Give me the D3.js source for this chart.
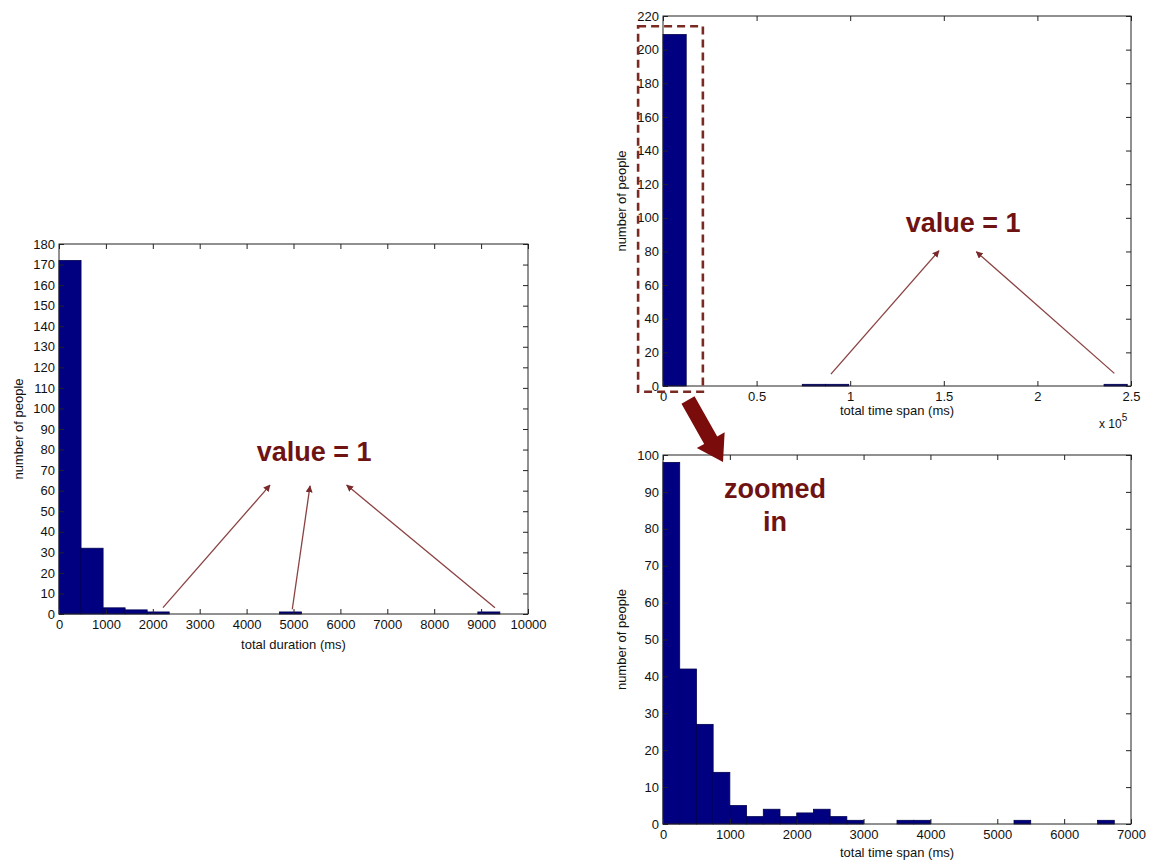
<!DOCTYPE html>
<html>
<head>
<meta charset="utf-8">
<script src="https://cdn.jsdelivr.net/npm/d3@7"></script>
<style>
  html, body { margin: 0; padding: 0; background: #fff; }
  svg { display: block; }
  text { font-family: "Liberation Sans", Arial, Helvetica, sans-serif; }
</style>
</head>
<body>
<svg id="chart" width="1153" height="863"></svg>
<script>
// ---------------- DATA ----------------
// Left histogram: total duration (ms), 20 bins
const durationBinStart = 0;
const durationBinWidth = 470;
const durationCounts = [172, 32, 3, 2, 1, 0, 0, 0, 0, 0, 1, 0, 0, 0, 0, 0, 0, 0, 0, 1];
const durationXTicks = [0, 1000, 2000, 3000, 4000, 5000, 6000, 7000, 8000, 9000, 10000];
const durationYTicks = d3.range(0, 181, 10);

// Top-right histogram: total time span (ms), full range, 20 bins
const spanFullBinStart = 0;
const spanFullBinWidth = 12400;
const spanFullCounts = [209, 0, 0, 0, 0, 0, 1, 1, 0, 0, 0, 0, 0, 0, 0, 0, 0, 0, 0, 1];
const spanFullXTicks = [0, 50000, 100000, 150000, 200000, 250000];
const spanFullXTickLabels = ["0", "0.5", "1", "1.5", "2", "2.5"];
const spanFullYTicks = d3.range(0, 221, 20);

// Bottom-right histogram: total time span (ms), zoomed in, bins of 250 ms
const spanZoomBinStart = 0;
const spanZoomBinWidth = 250;
const spanZoomCounts = [98, 42, 27, 14, 5, 2, 4, 2, 3, 4, 2, 1, 0, 0, 1, 1, 0, 0, 0, 0, 0, 1, 0, 0, 0, 0, 1];
const spanZoomXTicks = [0, 1000, 2000, 3000, 4000, 5000, 6000, 7000];
const spanZoomYTicks = d3.range(0, 101, 10);

// Annotation text
const annotationLabel = "value = 1";
const zoomLabelLines = ["zoomed", "in"];

// ---------------- DRAWING ----------------
const svg = d3.select("#chart");
const BAR_FILL = "#000080";
const BAR_EDGE = "#000050";
const ANNO_TEXT = "#6f1212";
const ANNO_LINE = "#8a4141";
const ANNO_FILL = "#7a0c0c";

const defs = svg.append("defs");
defs.append("marker")
  .attr("id", "head")
  .attr("viewBox", "0 0 10 10")
  .attr("refX", 9).attr("refY", 5)
  .attr("markerWidth", 7).attr("markerHeight", 7)
  .attr("markerUnits", "userSpaceOnUse")
  .attr("orient", "auto")
  .append("path")
  .attr("d", "M0,0 L10,5 L0,10 Z")
  .attr("fill", "#7a2a2a");

function panel(cfg) {
  const g = svg.append("g");
  const x = d3.scaleLinear().domain(cfg.xDomain).range([cfg.left, cfg.right]);
  const y = d3.scaleLinear().domain(cfg.yDomain).range([cfg.bottom, cfg.top]);

  const bins = cfg.counts.map((c, i) => ({
    x0: cfg.binStart + i * cfg.binWidth,
    x1: cfg.binStart + (i + 1) * cfg.binWidth,
    count: c
  })).filter(d => d.count > 0);

  g.selectAll("rect.bar").data(bins).enter().append("rect")
    .attr("class", "bar")
    .attr("x", d => x(d.x0))
    .attr("width", d => x(d.x1) - x(d.x0))
    .attr("y", d => y(d.count))
    .attr("height", d => y(0) - y(d.count))
    .attr("fill", BAR_FILL)
    .attr("stroke", BAR_EDGE)
    .attr("stroke-width", 0.8);

  const tk = 5;
  const fmt = cfg.xTickFormat || (d => d);
  const ax = g.append("g").attr("transform", `translate(0,${cfg.bottom})`)
    .call(d3.axisBottom(x).tickValues(cfg.xTicks).tickSize(-tk).tickPadding(6).tickFormat(fmt));
  const axT = g.append("g").attr("transform", `translate(0,${cfg.top})`)
    .call(d3.axisTop(x).tickValues(cfg.xTicks).tickSize(-tk).tickFormat(""));
  const ay = g.append("g").attr("transform", `translate(${cfg.left},0)`)
    .call(d3.axisLeft(y).tickValues(cfg.yTicks).tickSize(-tk).tickPadding(4));
  const ayR = g.append("g").attr("transform", `translate(${cfg.right},0)`)
    .call(d3.axisRight(y).tickValues(cfg.yTicks).tickSize(-tk).tickFormat(""));
  [ax, axT, ay, ayR].forEach(a => {
    a.select(".domain").remove();
    a.selectAll(".tick line").attr("stroke", "#222").attr("stroke-width", 1);
    a.selectAll("text").attr("font-size", 13).attr("fill", "#111")
      .style("font-family", "'Liberation Sans', Arial, sans-serif");
  });
  g.append("rect")
    .attr("x", cfg.left).attr("y", cfg.top)
    .attr("width", cfg.right - cfg.left).attr("height", cfg.bottom - cfg.top)
    .attr("fill", "none").attr("stroke", "#222").attr("stroke-width", 1);

  g.append("text")
    .attr("transform", `translate(${cfg.yLabelX},${(cfg.top + cfg.bottom) / 2}) rotate(-90)`)
    .attr("text-anchor", "middle").attr("dy", "0.35em")
    .attr("font-size", 13).attr("fill", "#111")
    .text("number of people");
  g.append("text")
    .attr("x", (cfg.left + cfg.right) / 2).attr("y", cfg.xLabelY)
    .attr("text-anchor", "middle")
    .attr("font-size", 13).attr("fill", "#111")
    .text(cfg.xLabel);
  return { g, x, y };
}

const L = panel({
  left: 59, right: 528, top: 244, bottom: 614,
  xDomain: [0, 10000], yDomain: [0, 180],
  binStart: durationBinStart, binWidth: durationBinWidth, counts: durationCounts,
  xTicks: durationXTicks, yTicks: durationYTicks,
  yLabelX: 18, xLabelY: 649, xLabel: "total duration (ms)"
});

const T = panel({
  left: 663, right: 1131, top: 16, bottom: 386,
  xDomain: [0, 250000], yDomain: [0, 220],
  binStart: spanFullBinStart, binWidth: spanFullBinWidth, counts: spanFullCounts,
  xTicks: spanFullXTicks, yTicks: spanFullYTicks,
  xTickFormat: (d, i) => spanFullXTickLabels[i],
  yLabelX: 621, xLabelY: 415, xLabel: "total time span (ms)"
});

const B = panel({
  left: 663, right: 1131, top: 455, bottom: 824,
  xDomain: [0, 7000], yDomain: [0, 100],
  binStart: spanZoomBinStart, binWidth: spanZoomBinWidth, counts: spanZoomCounts,
  xTicks: spanZoomXTicks, yTicks: spanZoomYTicks,
  yLabelX: 621, xLabelY: 857, xLabel: "total time span (ms)"
});

// exponent label for top-right axis
const expT = T.g.append("text").attr("x", 1099).attr("y", 428)
  .attr("font-size", 12).attr("fill", "#111");
expT.append("tspan").text("x 10");
expT.append("tspan").attr("dy", -7).attr("font-size", 10).text("5");

// ---------- annotations (in data space of each panel) ----------
function arrow(p, from, to) {
  svg.append("line")
    .attr("x1", p.x(from[0])).attr("y1", p.y(from[1]))
    .attr("x2", p.x(to[0])).attr("y2", p.y(to[1]))
    .attr("stroke", ANNO_LINE).attr("stroke-width", 1.3)
    .attr("marker-end", "url(#head)");
}
function label(p, xv, yv, txt) {
  svg.append("text")
    .attr("x", p.x(xv)).attr("y", p.y(yv))
    .attr("text-anchor", "middle")
    .attr("font-size", 27).attr("font-weight", "bold")
    .attr("fill", ANNO_TEXT)
    .text(txt);
}

// left panel
label(L, 5440, 74.6, annotationLabel);
arrow(L, [2217, 3.1], [4499, 62.7]);
arrow(L, [4974, 2.3], [5352, 62.3]);
arrow(L, [9296, 3.1], [6134, 62.7]);

// top-right panel
label(T, 160300, 91.7, annotationLabel);
arrow(T, [89700, 7.1], [147400, 80.4]);
arrow(T, [241100, 7.5], [167400, 79.8]);

// dashed box around first bin of the full-range histogram
svg.append("rect")
  .attr("x", T.x(-13300)).attr("y", T.y(213.9))
  .attr("width", T.x(21300) - T.x(-13300))
  .attr("height", T.y(-3.4) - T.y(213.9))
  .attr("fill", "none").attr("stroke", "#7a2a22")
  .attr("stroke-width", 2.6).attr("stroke-dasharray", "8,5");

// big arrow from dashed box down to zoomed panel
(function () {
  const s = [688, 400], t = [723, 462];
  const dx = t[0] - s[0], dy = t[1] - s[1];
  const len = Math.hypot(dx, dy);
  const ux = dx / len, uy = dy / len, nx = -uy, ny = ux;
  const headLen = 25, shaftW = 7.5, headW = 16;
  const hb = [t[0] - ux * headLen, t[1] - uy * headLen];
  const pts = [
    [s[0] + nx * shaftW, s[1] + ny * shaftW],
    [hb[0] + nx * shaftW, hb[1] + ny * shaftW],
    [hb[0] + nx * headW, hb[1] + ny * headW],
    t,
    [hb[0] - nx * headW, hb[1] - ny * headW],
    [hb[0] - nx * shaftW, hb[1] - ny * shaftW],
    [s[0] - nx * shaftW, s[1] - ny * shaftW]
  ];
  svg.append("path")
    .attr("d", "M" + pts.map(p => p.join(",")).join("L") + "Z")
    .attr("fill", ANNO_FILL);
})();

// "zoomed in" text in bottom panel
label(B, 1676, 88.3, zoomLabelLines[0]);
label(B, 1676, 79.4, zoomLabelLines[1]);
</script>
</body>
</html>
